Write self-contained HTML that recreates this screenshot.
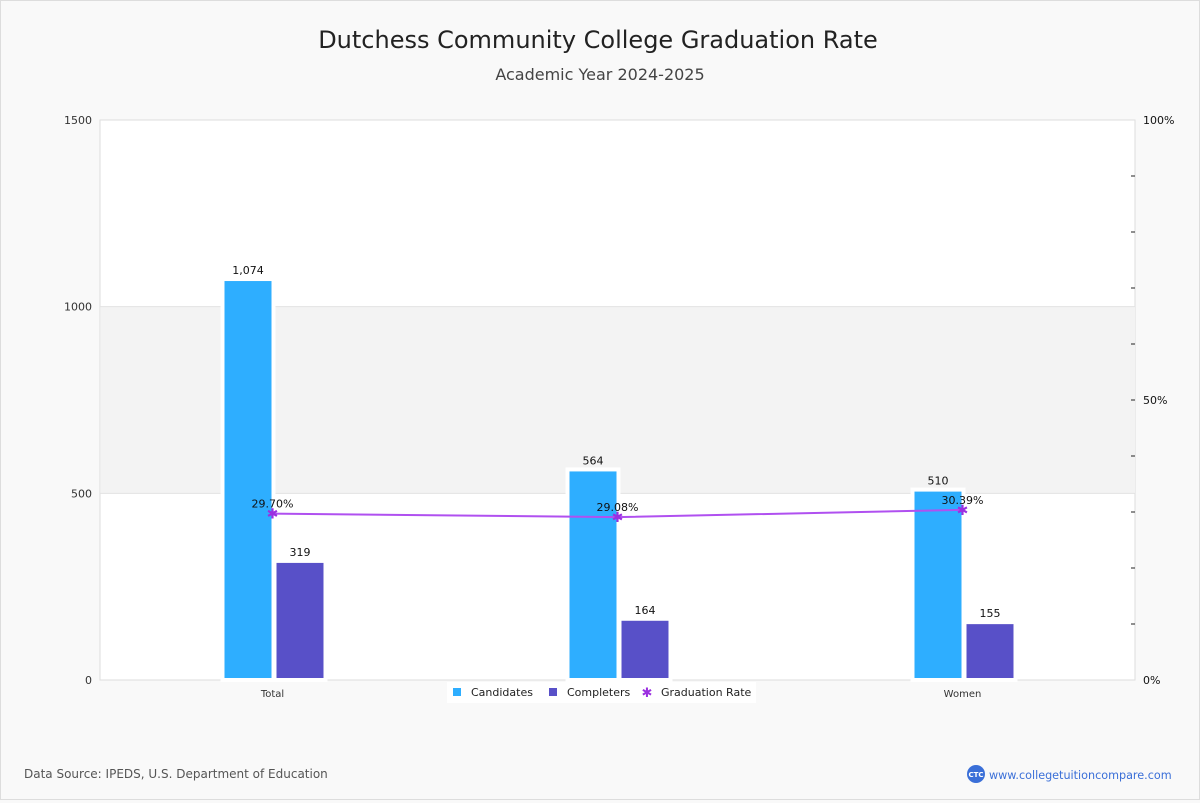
<!DOCTYPE html>
<html><head><meta charset="utf-8"><style>
body{margin:0;background:#f9f9f9;font-family:"DejaVu Sans","Liberation Sans",sans-serif;}
#wrap{position:relative;width:1198px;height:798px;border:1px solid #ddd;background:#f9f9f9;}
</style></head><body>
<div id="wrap">
<svg id="chart" width="1198" height="798" xmlns="http://www.w3.org/2000/svg" font-family="DejaVu Sans, Liberation Sans, sans-serif">
<text x="597" y="47" text-anchor="middle" font-size="24" fill="#222">Dutchess Community College Graduation Rate</text>
<text x="599" y="79" text-anchor="middle" font-size="16" fill="#444">Academic Year 2024-2025</text>
<rect x="99" y="119" width="1035" height="560" fill="#fff" stroke="#ddd"/>
<g id="g"></g>
<text x="23" y="777" font-size="12" fill="#555">Data Source: IPEDS, U.S. Department of Education</text>
<g>
<circle cx="975" cy="773" r="9" fill="#3a6fd8"/>
<text x="975" y="776" text-anchor="middle" font-size="7" fill="#fff" font-weight="bold">CTC</text>
<text x="988" y="778" font-size="11.2" fill="#3a6fd8">www.collegetuitioncompare.com</text>
</g>
</svg>
</div>
<script>
const categories=["Total","Men","Women"];
const candidates=[1074,564,510];
const completers=[319,164,155];
const rates=[29.70,29.08,30.39];
const leftTicks=[0,500,1000,1500];
const rightTicks=[0,50,100];
const NS="http://www.w3.org/2000/svg";
const g=document.getElementById('g');
const L=99,R=1134,T=119,B=679;
const y=v=>B-v/1500*(B-T);
const yr=p=>B-p/100*(B-T);
const cx=i=>L+(R-L)*(i+0.5)/categories.length;
function mk(t,a,txt){const e=document.createElementNS(NS,t);for(const k in a)e.setAttribute(k,a[k]);if(txt!==undefined)e.textContent=txt;g.appendChild(e);return e;}
let e=mk('rect',{x:L+1,y:y(1000),width:R-L-1,height:y(500)-y(1000),fill:'#f3f3f3'});


leftTicks.forEach(v=>{
 if(v>0&&v<1500){e=mk('line',{x1:L,x2:R,y1:y(v),y2:y(v),stroke:'#e2e2e2'});
 
 }
 e=mk('text',{x:L-8,y:y(v)+4,'text-anchor':'end','font-size':11,fill:'#333'},String(v));
 
 
});
for(let p=10;p<100;p+=10){
 e=mk('line',{x1:R-4,x2:R,y1:yr(p),y2:yr(p),stroke:'#222'});
 
 
}
rightTicks.forEach(p=>{
 e=mk('text',{x:R+8,y:yr(p)+4,'font-size':11,fill:'#111'},p+'%');
 
 
});
const bw=51;
categories.forEach((c,i)=>{
 const x0=cx(i);
 [[candidates[i],'#2eaeff',x0-50],[completers[i],'#5850c8',x0+2]].forEach(([v,col,bx],k)=>{
  e=mk('rect',{x:bx,y:y(v),width:bw,height:B-y(v),fill:col,stroke:'#fff','stroke-width':4});
  
  
  e=mk('text',{x:bx+bw/2,y:y(v)-5,'text-anchor':'middle','font-size':11,fill:'#111'},v.toLocaleString('en-US'));
  
  
 });
 e=mk('text',{x:x0,y:B+17,'text-anchor':'middle','font-size':10,fill:'#333'},c);
 
 
});
e=mk('polyline',{points:rates.map((r,i)=>cx(i)+','+yr(r)).join(' '),fill:'none',stroke:'#b050f0','stroke-width':2});


rates.forEach((r,i)=>{
 e=mk('text',{x:cx(i),y:yr(r)+5,'text-anchor':'middle','font-size':14,fill:'#9b30e0'},'✱');
 
 
 e=mk('text',{x:cx(i),y:yr(r)-6,'text-anchor':'middle','font-size':11,fill:'#111'},r.toFixed(2)+'%');
 
 
});
e=mk('rect',{x:446,y:681,width:309,height:21,fill:'#fff'});


[['Candidates','#2eaeff',452,'rect'],['Completers','#5850c8',548,'rect'],['Graduation Rate','#9b30e0',642,'star']].forEach(([t,col,x,s])=>{
 if(s==='rect')e=mk('rect',{x:x,y:687,width:8,height:8,fill:col});
 else e=mk('text',{x:x+4,y:696,'text-anchor':'middle','font-size':13,fill:col},'✱');
 
 
 e=mk('text',{x:x+18,y:695,'font-size':11,fill:'#222'},t);
 
 
});
</script>
</body></html>
